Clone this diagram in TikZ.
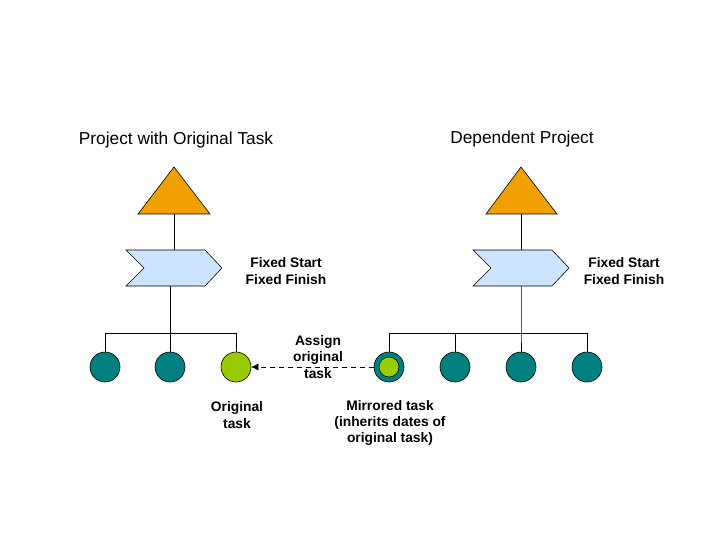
\documentclass[tikz,border=0pt]{standalone}
\usepackage{fontspec}
\usetikzlibrary{arrows.meta}
\setmainfont{Liberation Sans}
\definecolor{tri}{RGB}{240,160,0}
\definecolor{chev}{RGB}{204,228,255}
\definecolor{teal}{RGB}{0,128,128}
\definecolor{lime}{RGB}{153,204,0}
\begin{document}
\begin{tikzpicture}[x=1pt,y=-1pt,
  tr/.style={fill=tri,draw=black,line width=0.6pt},
  ch/.style={fill=chev,draw=black,line width=0.6pt},
  tk/.style={circle,fill=teal,draw=black,line width=0.6pt,minimum size=30pt,inner sep=0pt},
  gk/.style={circle,fill=lime,draw=black,line width=0.6pt,minimum size=30pt,inner sep=0pt},
  ln/.style={line width=0.6pt},
  lab/.style={font=\fontsize{13.8}{16.3}\selectfont\bfseries,align=center},
  ttl/.style={font=\fontsize{17.3}{19}\selectfont}]
\useasboundingbox (0,0) rectangle (720,540);
% left
\node[ttl] (t1) at (176,140) {Project with Original Task};
\filldraw[tr] (174,167) -- (210,214) -- (138,214) -- cycle;
\coordinate (a1) at (174,214); \coordinate (b1) at (174,250);
\draw[ln] (a1) -- (b1);
\filldraw[ch] (126,250) -- (205,250) -- (222,268) -- (205,286) -- (126,286) -- (144,268) -- cycle;
\node[lab] (f1) at (286,271) {Fixed Start\\Fixed Finish};
\node[tk] (c1) at (105,367) {};
\node[tk] (c2) at (170,367) {};
\node[gk] (c3) at (236,367) {};
\coordinate (h1) at (170,286); \coordinate (h2) at (170,333);
\draw[ln] (h1) -- (h2);
\draw[ln] (c1.north) -- (105,333) -- (236,333) -- (c3.north);
\draw[ln] (h2) -- (c2.north);
\node[lab] (o1) at (237,415) {Original\\task};
% right
\node[ttl] (t2) at (522,139) {Dependent Project};
\filldraw[tr] (521,167) -- (557,214) -- (486,214) -- cycle;
\coordinate (a2) at (521,214); \coordinate (b2) at (521,250);
\draw[ln] (a2) -- (b2);
\filldraw[ch] (473,250) -- (552,250) -- (569,268) -- (552,286) -- (473,286) -- (491,268) -- cycle;
\node[lab] (f2) at (624,271) {Fixed Start\\Fixed Finish};
\node[tk] (m) at (389,367) {};
\node[circle,fill=lime,draw=black,line width=0.6pt,minimum size=20pt,inner sep=0pt] (mi) at (389,367) {};
\node[tk] (d2) at (455,367) {};
\node[tk] (d3) at (521,367) {};
\node[tk] (d4) at (587,367) {};
\coordinate (h3) at (521,286); \coordinate (h4) at (521,333);
\draw[ln] (h3) -- (h4) -- (d3.north);
\draw[ln] (m.north) -- (389,333) -- (587,333) -- (d4.north);
\draw[ln] (455,333) -- (d2.north);
\node[lab] (mt) at (390,423) {Mirrored task\\(inherits dates of\\original task)};
\node[lab] (as) at (318,357) {Assign\\original\\task};
\draw[ln,dash pattern=on 5pt off 4pt,-{Latex[length=7pt,width=7pt]}] (m.west) -- (c3.east);
\end{tikzpicture}
\end{document}
